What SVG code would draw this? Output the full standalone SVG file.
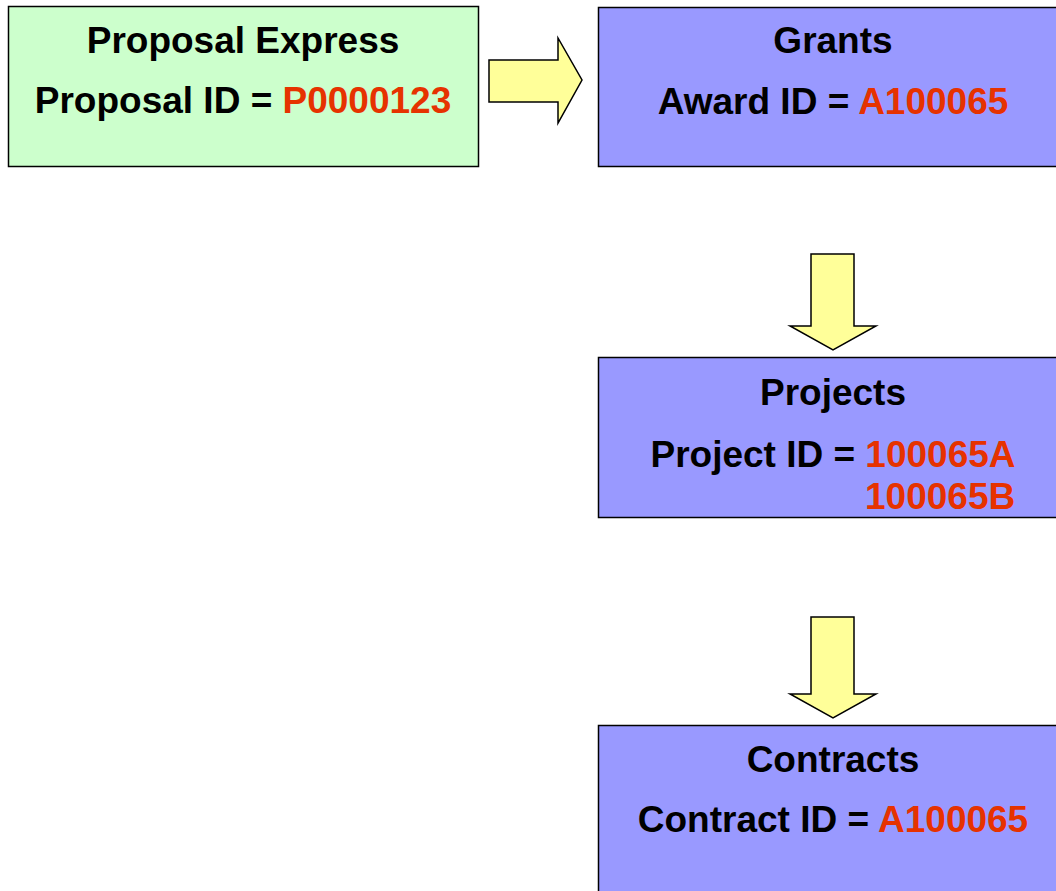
<svg xmlns="http://www.w3.org/2000/svg" width="1056" height="891" viewBox="0 0 1056 891">
<style>
  .box { stroke: #000; stroke-width: 1.5; }
  .green { fill: #CCFFCC; }
  .purple { fill: #9999FF; }
  .arrow { fill: #FFFF99; stroke: #000; stroke-width: 1.5; stroke-linejoin: miter; }
  text { font-family: "Liberation Sans", Arial, sans-serif; font-weight: bold; font-size: 37px; fill: #000; }
  .red { fill: #E63200; }
</style>
<rect width="1056" height="891" fill="#fff"/>
<g id="connectors">
  <polygon class="arrow" points="489,60 558,60 558,38 582,80 558,123 558,102 489,102"/>
  <polygon class="arrow" points="811,254 854,254 854,326 876,326 833,350 790,326 811,326"/>
  <polygon class="arrow" points="811,617 854,617 854,694 876,694 833,718 790,694 811,694"/>
</g>
<g id="proposal">
  <rect class="box green" x="8.5" y="6.5" width="470" height="160"/>
  <text x="243" y="53" text-anchor="middle">Proposal Express</text>
  <text x="243" y="113" text-anchor="middle">Proposal ID = <tspan class="red">P0000123</tspan></text>
</g>
<g id="grants">
  <rect class="box purple" x="598.5" y="7.5" width="470" height="159"/>
  <text x="833" y="53" text-anchor="middle">Grants</text>
  <text x="833" y="114" text-anchor="middle">Award ID = <tspan class="red">A100065</tspan></text>
</g>
<g id="projects">
  <rect class="box purple" x="598.5" y="357.5" width="470" height="160"/>
  <text x="833" y="405" text-anchor="middle">Projects</text>
  <text x="833" y="467" text-anchor="middle">Project ID = <tspan class="red">100065A</tspan></text>
  <text x="865" y="509" class="red">100065B</text>
</g>
<g id="contracts">
  <rect class="box purple" x="598.5" y="725.5" width="470" height="170"/>
  <text x="833" y="772" text-anchor="middle">Contracts</text>
  <text x="833" y="832" text-anchor="middle">Contract ID = <tspan class="red">A100065</tspan></text>
</g>
</svg>
